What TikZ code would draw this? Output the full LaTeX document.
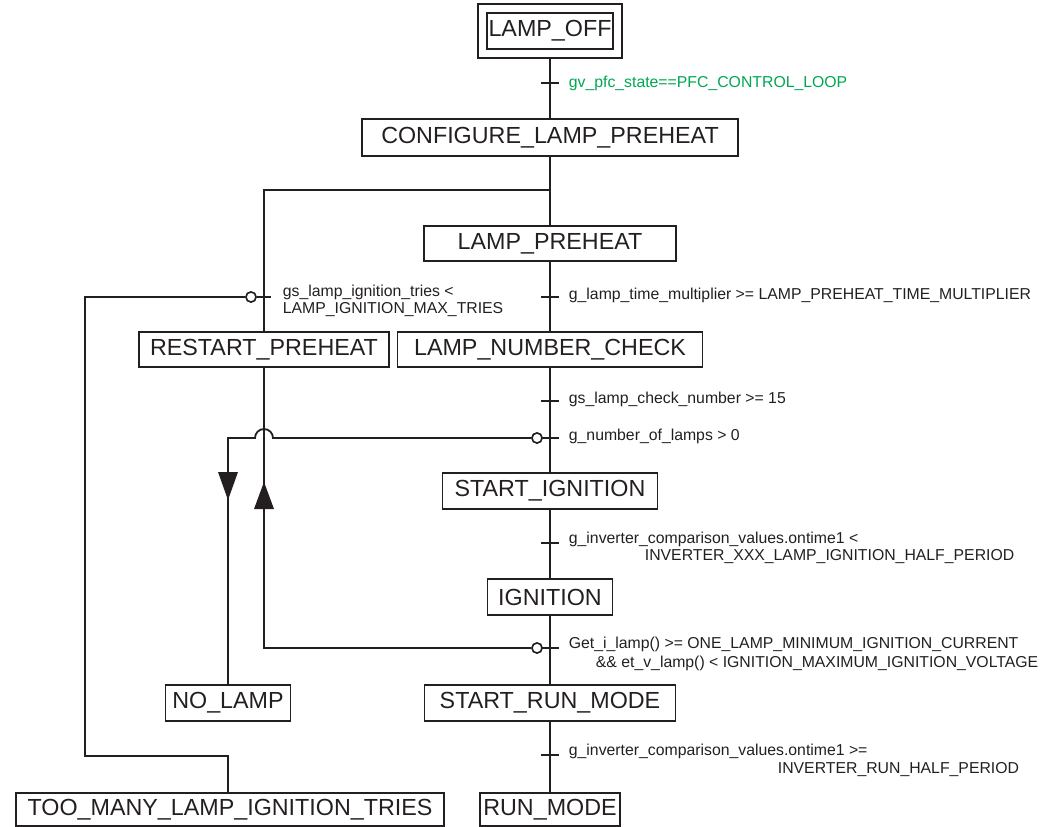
\documentclass[tikz,border=0pt]{standalone}
\usepackage{fontspec}
\setmainfont{Liberation Sans}
\definecolor{ink}{RGB}{35,31,32}
\definecolor{cgreen}{RGB}{0,166,81}
\begin{document}
\begin{tikzpicture}[x=1pt,y=-1pt,line width=1.8pt,
  state/.style={draw=ink, line width=1.8pt, inner sep=0pt, text=ink,
    font=\fontsize{23.3}{27}\selectfont},
  cond/.style={inner sep=0pt, anchor=west, text=ink,
    font=\fontsize{15.8}{18.5}\selectfont},
  neg/.style={draw=ink, fill=white, circle, inner sep=0pt, minimum size=10pt, line width=1.5pt},
  conn/.style={draw=ink, line width=1.8pt},
  tickmark/.style={draw=ink, line width=1.8pt},
  head/.style={fill=ink}]
\useasboundingbox (0,0) rectangle (1047,827);

% states
\node[state, minimum width=144, minimum height=54] (offouter) at (550,31) {};
\node[state, minimum width=126, minimum height=36] (off) at (550,31) {LAMP\_OFF};
\node[state, minimum width=376, minimum height=37] (configure) at (550,137.5) {CONFIGURE\_LAMP\_PREHEAT};
\node[state, minimum width=252, minimum height=35] (preheat) at (550,243.5) {LAMP\_PREHEAT};
\node[state, minimum width=250, minimum height=35] (restart) at (264,349.5) {RESTART\_PREHEAT};
\node[state, minimum width=305, minimum height=35] (numcheck) at (550,349.5) {LAMP\_NUMBER\_CHECK};
\node[state, minimum width=215, minimum height=36] (startign) at (550,491) {START\_IGNITION};
\node[state, minimum width=125, minimum height=36] (ign) at (550,597) {IGNITION};
\node[state, minimum width=125, minimum height=36] (nolamp) at (228,703) {NO\_LAMP};
\node[state, minimum width=251, minimum height=36] (startrun) at (550,703) {START\_RUN\_MODE};
\node[state, minimum width=428, minimum height=33] (toomany) at (230,809.5) {TOO\_MANY\_LAMP\_IGNITION\_TRIES};
\node[state, minimum width=140, minimum height=33] (runmode) at (550,809.5) {RUN\_MODE};

% coordinates
\coordinate (j1) at (550,190);
\coordinate (l1) at (85,297);
\coordinate (l2) at (85,756);
\coordinate (l3) at (228,756);
\coordinate (a1) at (273,438);
\coordinate (a2) at (228,438);
\coordinate (r1) at (264,648);

% main spine
\draw[conn] (offouter.south) -- (configure.north);
\draw[conn] (configure.south) -- (preheat.north);
\draw[conn] (restart.north) |- (j1);
\draw[conn] (preheat.south) -- (numcheck.north);
\draw[conn] (numcheck.south) -- (startign.north);
\draw[conn] (startign.south) -- (ign.north);
\draw[conn] (ign.south) -- (startrun.north);
\draw[conn] (startrun.south) -- (runmode.north);

% negated transitions
\node[neg] (n1) at (251,297) {};
\node[neg] (n2) at (537,438) {};
\node[neg] (n3) at (537,648) {};
\draw[conn] (n1) -- (l1) -- (l2) -- (l3) -- (l3 |- toomany.north);
\draw[conn] (n2) -- (a1) arc[start angle=0, end angle=-180, radius=9] -- (a2) -- (a2 |- nolamp.north);
\draw[conn] (n3) -- (r1) -- (restart.south);
\node[neg] at (251,297) {};
\node[neg] at (537,438) {};
\node[neg] at (537,648) {};

% arrow heads
\fill[head] (218,472) -- (238,472) -- (228,500) -- cycle;
\fill[head] (254,509) -- (274,509) -- (264,482) -- cycle;

% ticks
\draw[tickmark] (541,83) -- (559,83);
\draw[tickmark] (257,297) -- (271,297);
\draw[tickmark] (541,297) -- (559,297);
\draw[tickmark] (541,401) -- (559,401);
\draw[tickmark] (541,438) -- (559,438);
\draw[tickmark] (541,543) -- (559,543);
\draw[tickmark] (541,648) -- (559,648);
\draw[tickmark] (541,755) -- (559,755);

% conditions
\node[cond, text=cgreen] (c0) at (568,83) {gv\_pfc\_state==PFC\_CONTROL\_LOOP};
\node[cond] (c1a) at (282,292) {gs\_lamp\_ignition\_tries <};
\node[cond] (c1b) at (282,310) {LAMP\_IGNITION\_MAX\_TRIES};
\node[cond] (c2) at (568,295) {g\_lamp\_time\_multiplier >= LAMP\_PREHEAT\_TIME\_MULTIPLIER};
\node[cond] (c3) at (568,399) {gs\_lamp\_check\_number >= 15};
\node[cond] (c4) at (568,436) {g\_number\_of\_lamps > 0};
\node[cond] (c5a) at (568,539) {g\_inverter\_comparison\_values.ontime1 <};
\node[cond] (c5b) at (644,557) {INVERTER\_XXX\_LAMP\_IGNITION\_HALF\_PERIOD};
\node[cond] (c6a) at (568,644) {Get\_i\_lamp() >= ONE\_LAMP\_MINIMUM\_IGNITION\_CURRENT};
\node[cond] (c6b) at (595,663) {\&\& et\_v\_lamp() < IGNITION\_MAXIMUM\_IGNITION\_VOLTAGE};
\node[cond] (c7a) at (568,751) {g\_inverter\_comparison\_values.ontime1 >=};
\node[cond] (c7b) at (777,770) {INVERTER\_RUN\_HALF\_PERIOD};
\end{tikzpicture}
\end{document}
